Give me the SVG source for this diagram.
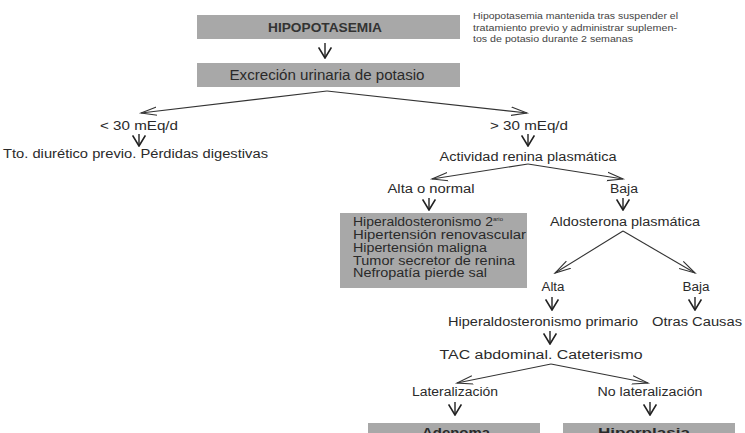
<svg xmlns="http://www.w3.org/2000/svg" width="745" height="433" viewBox="0 0 745 433">
<defs>
<marker id="open" markerUnits="userSpaceOnUse" markerWidth="18" markerHeight="12" refX="16" refY="5" orient="auto" viewBox="0 0 18 10">
<path d="M0,0.8 L16,5 L0,9.2" fill="none" stroke="#333" stroke-width="1.1"/>
</marker>
<marker id="small" markerUnits="userSpaceOnUse" markerWidth="12" markerHeight="14" refX="9" refY="6" orient="auto" viewBox="0 0 10 12">
<path d="M0,0.5 L9,6 L0,11.5" fill="none" stroke="#222" stroke-width="1.4"/>
</marker>
</defs>
<style>
text{font-family:"Liberation Sans",Arial,sans-serif;fill:#2a2a2a;font-size:12.5px}
.c{text-anchor:middle}
.box{fill:#a8a8a8}
.b{font-weight:bold}
.note{font-size:9.4px;fill:#444}
.conn line{stroke:#333;stroke-width:1.1}
.down line{stroke:#222;stroke-width:1.4}
</style>
<rect width="745" height="433" fill="#ffffff"/>

<g id="hipopotasemia">
<rect class="box" x="197" y="15" width="263" height="24"/>
<text class="c" x="325" y="32" textLength="114" lengthAdjust="spacingAndGlyphs" style="font-size:12px;font-weight:bold;fill:#333">HIPOPOTASEMIA</text>
</g>
<g id="nota">
<text class="note" x="473" y="19" textLength="205" lengthAdjust="spacingAndGlyphs">Hipopotasemia mantenida tras suspender el</text>
<text class="note" x="473" y="30.5" textLength="204" lengthAdjust="spacingAndGlyphs">tratamiento previo y administrar suplemen-</text>
<text class="note" x="473" y="42" textLength="160" lengthAdjust="spacingAndGlyphs">tos de potasio durante 2 semanas</text>
</g>
<g id="excrecion">
<rect class="box" x="197" y="63" width="263" height="24"/>
<text class="c" x="327" y="80" textLength="195" lengthAdjust="spacingAndGlyphs" style="font-size:14px">Excreción urinaria de potasio</text>
</g>
<g id="menos30"><text class="c" x="139" y="130" textLength="78" lengthAdjust="spacingAndGlyphs">&lt; 30 mEq/d</text></g>
<g id="tto"><text x="3" y="158" textLength="265" lengthAdjust="spacingAndGlyphs">Tto. diurético previo. Pérdidas digestivas</text></g>
<g id="mas30"><text class="c" x="529" y="130" textLength="78" lengthAdjust="spacingAndGlyphs">&gt; 30 mEq/d</text></g>
<g id="actividad"><text class="c" x="528" y="161" textLength="177" lengthAdjust="spacingAndGlyphs">Actividad renina plasmática</text></g>
<g id="altanormal"><text class="c" x="431" y="193" textLength="87" lengthAdjust="spacingAndGlyphs">Alta o normal</text></g>
<g id="baja1"><text class="c" x="624" y="193" textLength="28" lengthAdjust="spacingAndGlyphs">Baja</text></g>
<g id="causas">
<rect class="box" x="340" y="213" width="187" height="75"/>
<text x="353" y="226"><tspan textLength="140" lengthAdjust="spacingAndGlyphs">Hiperaldosteronismo 2</tspan><tspan dy="-5" style="font-size:6px">ario</tspan></text>
<text x="353" y="239" textLength="173" lengthAdjust="spacingAndGlyphs">Hipertensión renovascular</text>
<text x="353" y="252" textLength="134" lengthAdjust="spacingAndGlyphs">Hipertensión maligna</text>
<text x="353" y="264.5" textLength="162" lengthAdjust="spacingAndGlyphs">Tumor secretor de renina</text>
<text x="353" y="277" textLength="134" lengthAdjust="spacingAndGlyphs">Nefropatía pierde sal</text>
</g>
<g id="aldosterona"><text class="c" x="625" y="226" textLength="150" lengthAdjust="spacingAndGlyphs">Aldosterona plasmática</text></g>
<g id="alta"><text class="c" x="553" y="291" textLength="23" lengthAdjust="spacingAndGlyphs">Alta</text></g>
<g id="baja2"><text class="c" x="696" y="291" textLength="27" lengthAdjust="spacingAndGlyphs">Baja</text></g>
<g id="hiperprimario"><text class="c" x="543" y="326" textLength="190" lengthAdjust="spacingAndGlyphs">Hiperaldosteronismo primario</text></g>
<g id="otras"><text class="c" x="697" y="326" textLength="90" lengthAdjust="spacingAndGlyphs">Otras Causas</text></g>
<g id="tac"><text class="c" x="541" y="359" textLength="203" lengthAdjust="spacingAndGlyphs">TAC abdominal. Cateterismo</text></g>
<g id="lateral"><text class="c" x="455" y="396" textLength="86" lengthAdjust="spacingAndGlyphs">Lateralización</text></g>
<g id="nolateral"><text class="c" x="650" y="396" textLength="105" lengthAdjust="spacingAndGlyphs">No lateralización</text></g>
<g id="adenoma">
<rect class="box" x="368" y="423" width="172" height="20"/>
<text class="c b" x="456" y="437" textLength="68" lengthAdjust="spacingAndGlyphs">Adenoma</text>
</g>
<g id="hiperplasia">
<rect class="box" x="563" y="423" width="172" height="20"/>
<text class="c b" x="644" y="437" textLength="92" lengthAdjust="spacingAndGlyphs">Hiperplasia</text>
</g>

<g id="connectors">
<g class="conn">
<line x1="327" y1="91" x2="141" y2="113" marker-end="url(#open)"/>
<line x1="327" y1="91" x2="527" y2="113" marker-end="url(#open)"/>
<line x1="528" y1="164" x2="432" y2="179" marker-end="url(#open)"/>
<line x1="528" y1="164" x2="623" y2="179" marker-end="url(#open)"/>
<line x1="623" y1="231" x2="555" y2="273" marker-end="url(#open)"/>
<line x1="623" y1="231" x2="695" y2="273" marker-end="url(#open)"/>
<line x1="551" y1="364" x2="457" y2="383" marker-end="url(#open)"/>
<line x1="551" y1="364" x2="648" y2="383" marker-end="url(#open)"/>
</g>
<g class="down">
<line x1="325" y1="43" x2="325" y2="58" marker-end="url(#small)"/>
<line x1="139" y1="134" x2="139" y2="146" marker-end="url(#small)"/>
<line x1="528" y1="134" x2="528" y2="146" marker-end="url(#small)"/>
<line x1="429" y1="198" x2="429" y2="210" marker-end="url(#small)"/>
<line x1="623" y1="198" x2="623" y2="210" marker-end="url(#small)"/>
<line x1="552" y1="297" x2="552" y2="310" marker-end="url(#small)"/>
<line x1="695" y1="297" x2="695" y2="310" marker-end="url(#small)"/>
<line x1="550" y1="331" x2="550" y2="344" marker-end="url(#small)"/>
<line x1="455" y1="402" x2="455" y2="415" marker-end="url(#small)"/>
<line x1="650" y1="402" x2="650" y2="415" marker-end="url(#small)"/>
</g>
</g>
</svg>
